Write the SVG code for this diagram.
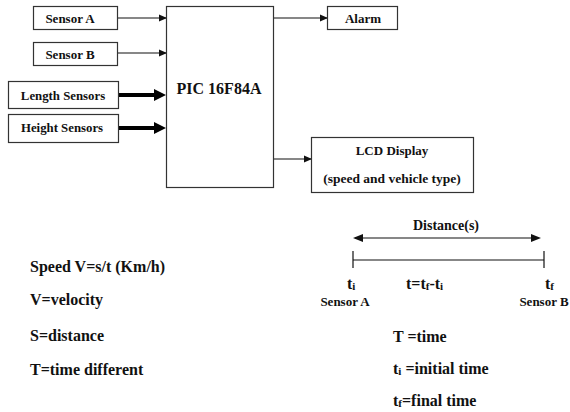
<svg xmlns="http://www.w3.org/2000/svg" width="570" height="412" viewBox="0 0 570 412">
<style>
text{font-family:"Liberation Serif","DejaVu Serif",serif;font-weight:bold;fill:#111}
.box{fill:#fff;stroke:#333;stroke-width:1.2}
.s{font-size:13px}
.m{font-size:12.8px}
.t{font-size:16px}
.sub{font-size:11px}
.ln{stroke:#111;stroke-width:1.2;fill:none}
.thick{stroke:#000;stroke-width:4;fill:none}
</style>
<defs>
<marker id="ah" markerWidth="8" markerHeight="8" refX="7" refY="4" orient="auto" markerUnits="userSpaceOnUse"><path d="M0,0.5 L8,4 L0,7.5 z" fill="#111"/></marker>
</defs>
<g id="connectors">
<line class="ln" x1="118" y1="18" x2="166" y2="18" marker-end="url(#ah)"/>
<line class="ln" x1="118" y1="53" x2="166" y2="53" marker-end="url(#ah)"/>
<line class="thick" x1="118" y1="95" x2="156" y2="95"/>
<path d="M154,89 L166,95 L154,101 z" fill="#000"/>
<line class="thick" x1="118" y1="128" x2="156" y2="128"/>
<path d="M154,122 L166,128 L154,134 z" fill="#000"/>
<line class="ln" x1="274" y1="18" x2="327" y2="18" marker-end="url(#ah)"/>
<line class="ln" x1="274" y1="159" x2="311" y2="159" marker-end="url(#ah)"/>
</g>
<g id="sensorA"><rect class="box" x="33.5" y="6.5" width="84" height="23"/><text class="s" x="70" y="23" text-anchor="middle">Sensor A</text></g>
<g id="sensorB"><rect class="box" x="33.5" y="42.5" width="84" height="23"/><text class="s" x="70" y="59" text-anchor="middle">Sensor B</text></g>
<g id="length"><rect class="box" x="8.5" y="81.5" width="110" height="27"/><text class="m" x="63" y="100" text-anchor="middle">Length Sensors</text></g>
<g id="height"><rect class="box" x="8.5" y="114.5" width="110" height="28"/><text class="m" x="62" y="132" text-anchor="middle">Height Sensors</text></g>
<g id="pic"><rect class="box" x="166.5" y="6.5" width="107" height="181"/><text x="219" y="94" font-size="16" text-anchor="middle">PIC 16F84A</text></g>
<g id="alarm"><rect class="box" x="327.5" y="6.5" width="70" height="23"/><text class="s" x="363" y="23" text-anchor="middle">Alarm</text></g>
<g id="lcd"><rect class="box" x="311.5" y="137.5" width="162" height="55"/><text class="s" x="392" y="155" text-anchor="middle">LCD Display</text><text font-size="13.5" x="392" y="183" text-anchor="middle">(speed and vehicle type)</text></g>
<g id="distance">
<line class="ln" x1="355" y1="238" x2="538" y2="238"/>
<path d="M353,238 L363,234 L363,242 z" fill="#111"/>
<path d="M541,238 L531,234 L531,242 z" fill="#111"/>
<text font-size="14" x="446" y="230" text-anchor="middle">Distance(s)</text>
<line class="ln" x1="353" y1="260" x2="544" y2="260"/>
<line class="ln" x1="353" y1="251" x2="353" y2="268"/>
<line class="ln" x1="544" y1="251" x2="544" y2="268"/>
<text class="t" x="347" y="289">t<tspan class="sub" dy="1">i</tspan></text>
<text class="t" x="406" y="289">t=t<tspan class="sub" dy="1">f</tspan><tspan dy="-1">-t</tspan><tspan class="sub" dy="1">i</tspan></text>
<text class="t" x="545" y="289">t<tspan class="sub" dy="1">f</tspan></text>
<text class="s" x="345" y="306" text-anchor="middle">Sensor A</text>
<text class="s" x="544" y="306" text-anchor="middle">Sensor B</text>
</g>
<g id="legend">
<text class="t" x="393" y="342">T =time</text>
<text class="t" x="393" y="374">t<tspan class="sub" dy="1">i</tspan><tspan dy="-1"> =initial time</tspan></text>
<text class="t" x="393" y="406">t<tspan class="sub" dy="1">f</tspan><tspan dy="-1">=final time</tspan></text>
<text class="t" x="30" y="272">Speed V=s/t (Km/h)</text>
<text class="t" x="30" y="305">V=velocity</text>
<text class="t" x="30" y="341">S=distance</text>
<text class="t" x="30" y="375">T=time different</text>
</g>
</svg>
